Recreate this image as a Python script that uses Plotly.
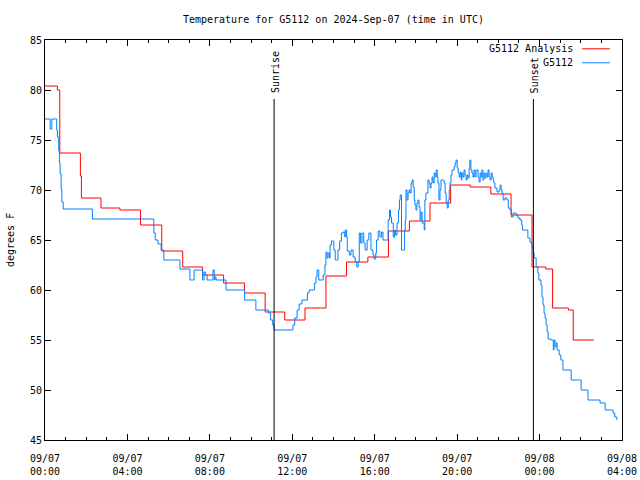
import pandas as pd
import plotly.graph_objects as go

BASE = pd.Timestamp("2024-09-07 00:00")

# Analysis series (minutes after 2024-09-07 00:00 UTC, deg F) - step values
ana_min = [0, 36, 43, 103, 106, 163, 218, 278, 340, 401, 459, 520, 581, 641, 698,
           757, 818, 878, 940, 1000, 1061, 1121, 1181, 1238, 1298, 1357, 1418,
           1458, 1478, 1524, 1538, 1598]
ana_temp = [80.4, 80.0, 73.7, 71.4, 69.2, 68.2, 68.0, 66.5, 63.9, 62.3, 61.5, 60.7, 59.7, 57.8, 57.0,
            58.2, 61.4, 62.8, 63.3, 65.9, 66.9, 68.7, 70.5, 70.3, 69.6, 67.5, 62.3,
            62.1, 58.2, 58.0, 55.0, 55.0]

# Station observations (minutes after 2024-09-07 00:00 UTC, deg F)
obs_min = [0, 9, 15, 20, 30, 34, 36, 40, 42, 44, 47, 49, 53, 131, 138, 312, 317, 321, 329, 338,
           346, 388, 393, 417, 422, 429, 434, 451, 459, 463, 467, 472, 485, 489, 493, 495, 498,
           524, 527, 576, 581, 609, 614, 646, 651, 657, 663, 667, 720, 722, 727, 734, 740, 748,
           760, 764, 769, 781, 785, 789, 792, 797, 807, 810, 815, 818, 821, 824, 828, 830, 834,
           838, 841, 845, 849, 853, 858, 863, 868, 873, 874, 878, 880, 886, 891, 897, 903, 908,
           912, 915, 919, 923, 928, 932, 938, 943, 949, 955, 958, 963, 965, 970, 975, 980, 984,
           995, 999, 1003, 1006, 1009, 1014, 1018, 1021, 1025, 1029, 1032, 1034, 1038, 1044,
           1047, 1049, 1051, 1054, 1057, 1060, 1063, 1066, 1069, 1072, 1075, 1077, 1080, 1083,
           1086, 1089, 1092, 1095, 1098, 1104, 1106, 1109, 1115, 1118, 1121, 1124, 1127, 1130,
           1133, 1136, 1139, 1142, 1144, 1147, 1150, 1153, 1160, 1162, 1165, 1168, 1171, 1174,
           1177, 1179, 1182, 1185, 1188, 1191, 1194, 1197, 1200, 1203, 1206, 1209, 1212, 1214,
           1217, 1220, 1223, 1226, 1229, 1232, 1235, 1237, 1240, 1243, 1246, 1249, 1252, 1255,
           1258, 1261, 1264, 1267, 1270, 1272, 1275, 1278, 1281, 1284, 1287, 1290, 1293, 1296,
           1299, 1302, 1305, 1307, 1310, 1316, 1322, 1325, 1328, 1331, 1334, 1339, 1345, 1349,
           1354, 1358, 1363, 1369, 1372, 1377, 1383, 1388, 1390, 1403, 1406, 1409, 1412, 1415,
           1418, 1421, 1424, 1430, 1435, 1438, 1444, 1447, 1450, 1453, 1456, 1459, 1462, 1465,
           1473, 1478, 1480, 1482, 1485, 1488, 1491, 1497, 1502, 1508, 1529, 1532, 1556, 1561,
           1577, 1581, 1604, 1616, 1631, 1650, 1654, 1659, 1665]
obs_temp = [77.1, 77.1, 76.1, 77.1, 77.1, 76.0, 75.3, 73.9, 72.7, 71.6, 70.1, 68.8, 68.1, 68.1, 67.1, 67.1, 65.7, 65.0, 64.6, 64.0,
            63.0, 63.0, 62.1, 62.1, 61.0, 61.0, 62.0, 62.0, 61.0, 61.8, 61.5, 61.0, 61.0, 62.0, 61.0, 61.3, 61.0,
            61.0, 60.0, 60.0, 59.0, 59.0, 58.0, 58.0, 57.7, 57.0, 56.5, 56.0, 56.0, 56.5, 57.2, 58.0, 58.6, 59.0,
            59.0, 59.7, 60.0, 60.0, 60.7, 61.3, 62.0, 61.0, 61.0, 61.5, 62.5, 63.8, 63.2, 63.7, 63.2, 64.5, 64.9,
            64.9, 64.0, 63.0, 63.0, 64.0, 64.9, 65.7, 65.8, 65.3, 66.0, 65.3, 63.9, 63.5, 64.0, 63.3, 62.8, 62.3,
            62.8, 65.7, 64.7, 65.7, 64.7, 64.0, 65.0, 65.7, 64.0, 63.5, 63.1, 63.7, 65.0, 65.9, 65.3, 65.8, 65.0,
            65.0, 67.0, 68.0, 67.3, 66.7, 65.3, 66.0, 65.5, 66.7, 68.0, 69.0, 69.5, 64.0, 64.0,
            66.0, 67.0, 70.0, 69.0, 69.7, 70.0, 69.7, 70.7, 71.0, 70.3, 69.0, 68.5, 68.0, 68.7,
            69.0, 68.3, 67.0, 67.8, 66.7, 66.0, 69.0, 69.7, 71.0, 70.7, 70.2, 70.7, 71.3, 70.7,
            71.7, 71.3, 72.0, 71.3, 70.7, 69.0, 70.0, 71.0, 71.0, 70.7, 69.7, 68.7, 68.2, 69.0,
            70.0, 70.7, 71.5, 72.0, 72.0, 72.3, 72.7, 73.0, 72.2, 71.7, 71.3, 71.8, 71.0, 71.7,
            71.3, 72.0, 71.5, 71.0, 71.5, 71.2, 72.2, 73.0, 72.0, 71.7, 71.3, 72.0, 71.3, 72.0,
            72.0, 71.3, 70.8, 71.7, 71.3, 72.0, 71.0, 71.7, 71.2, 71.7, 71.3, 72.0, 71.3, 71.0,
            71.7, 71.3, 71.0, 70.7, 70.2, 69.8, 70.0, 70.5, 70.0, 69.7, 69.0, 69.2, 69.0, 68.2,
            68.0, 67.3, 67.7, 67.7, 67.5, 67.2, 67.0, 66.5, 66.0, 66.0, 65.2, 65.2, 64.8, 64.7,
            64.2, 63.7, 63.2, 62.3, 61.7, 61.0, 60.5, 59.3, 58.5, 57.7, 57.2, 56.5, 55.8, 55.1,
            55.0, 55.0, 54.0, 55.0, 54.3, 54.7, 54.0, 53.5, 53.0, 52.0, 52.0, 51.0, 51.0, 50.0,
            50.0, 49.0, 49.0, 48.7, 48.0, 48.0, 47.7, 47.3, 47.0]

sunrise_time = "2024-09-07 11:07"
sunset_time = "2024-09-07 23:42"
marker_top = 79.1

tick_times = ["2024-09-07 00:00", "2024-09-07 04:00", "2024-09-07 08:00", "2024-09-07 12:00",
              "2024-09-07 16:00", "2024-09-07 20:00", "2024-09-08 00:00", "2024-09-08 04:00"]
tick_text = ["09/07<br>00:00", "09/07<br>04:00", "09/07<br>08:00", "09/07<br>12:00",
             "09/07<br>16:00", "09/07<br>20:00", "09/08<br>00:00", "09/08<br>04:00"]

FONT = "DejaVu Sans Mono"
RED = "#ff0000"
BLUE = "#0080ff"

ana_x = BASE + pd.to_timedelta(ana_min, unit="m")
obs_x = BASE + pd.to_timedelta(obs_min, unit="m")

fig = go.Figure()
fig.add_trace(go.Scatter(x=ana_x, y=ana_temp, mode="lines", name="G5112 Analysis",
                         line=dict(color=RED, width=1, shape="hv")))
fig.add_trace(go.Scatter(x=obs_x, y=obs_temp, mode="lines", name="G5112",
                         line=dict(color=BLUE, width=1, shape="hv")))

for t, label in [(sunrise_time, "Sunrise"), (sunset_time, "Sunset")]:
    fig.add_trace(go.Scatter(x=[t, t], y=[45, marker_top], mode="lines", showlegend=False,
                             line=dict(color="black", width=1), hoverinfo="skip"))
    fig.add_annotation(x=t, y=marker_top, yref="y", xref="x", text=label, textangle=-90,
                       showarrow=False, yanchor="bottom", xanchor="center", xshift=1, yshift=4,
                       font=dict(family=FONT, size=10, color="black"))

fig.update_layout(
    width=640, height=480,
    margin=dict(l=45, r=18, t=40, b=40),
    paper_bgcolor="white", plot_bgcolor="white",
    showlegend=False,
    font=dict(family=FONT, size=10, color="black"),
    title=dict(text="Temperature for G5112 on 2024-Sep-07 (time in UTC)", x=0.521, xanchor="center",
               y=0.96, yanchor="middle", font=dict(family=FONT, size=10, color="black")),
)
fig.update_xaxes(
    range=["2024-09-07 00:00", "2024-09-08 04:00"],
    tickvals=tick_times, ticktext=tick_text, automargin=False, ticklabelstandoff=9,
    ticks="inside", ticklen=6, tickcolor="black", tickwidth=1,
    showline=True, linecolor="black", linewidth=1, mirror="allticks",
    showgrid=False, zeroline=False,
    minor=dict(ticks="inside", ticklen=3, dtick=3600000, tick0="2024-09-07 00:00",
               tickcolor="black", showgrid=False),
    tickfont=dict(family=FONT, size=10, color="black"),
)
fig.update_yaxes(
    range=[45, 85], dtick=5, tick0=45, automargin=False,
    ticks="inside", ticklen=6, tickcolor="black", tickwidth=1,
    showline=True, linecolor="black", linewidth=1, mirror="allticks",
    showgrid=False, zeroline=False,
    tickfont=dict(family=FONT, size=10, color="black"),
)

fig.add_annotation(xref="paper", yref="paper", x=0, y=0.5, xshift=-35, textangle=-90,
                   text="degrees F", showarrow=False, xanchor="center", yanchor="middle",
                   font=dict(family=FONT, size=10, color="black"))

# legend (top-right, gnuplot style: text then line sample)
for i, (name, col) in enumerate([("G5112 Analysis", RED), ("G5112", BLUE)]):
    ypos = 0.978 - i * 0.035
    fig.add_annotation(xref="paper", yref="paper", x=0.9185, y=ypos, text=name,
                       showarrow=False, xanchor="right", yanchor="middle",
                       font=dict(family=FONT, size=10, color="black"))
    fig.add_shape(type="line", xref="paper", yref="paper", x0=0.9307, x1=0.9792,
                  y0=ypos, y1=ypos, line=dict(color=col, width=1))

fig.write_html("out.html", config={"displayModeBar": False},
               post_script="document.body.style.margin='0';document.body.style.padding='0';")
